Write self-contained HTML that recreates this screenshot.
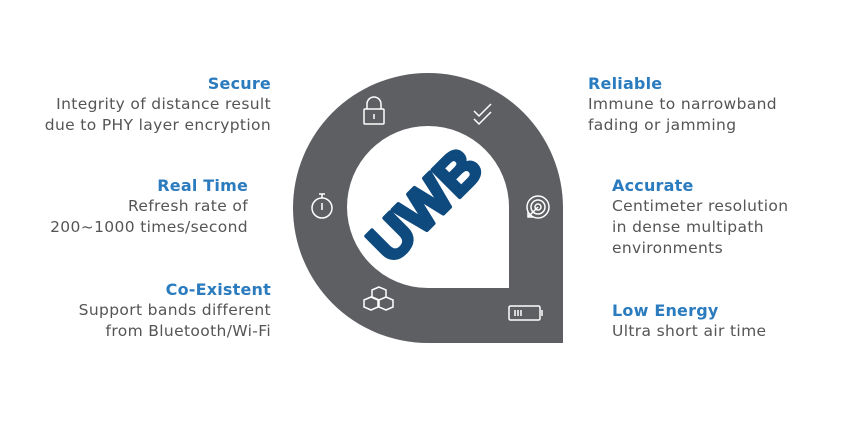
<!DOCTYPE html>
<html><head><style>
body{margin:0;width:850px;height:425px;background:#fff;position:relative;overflow:hidden;font-family:"DejaVu Sans","Liberation Sans",sans-serif}
.t{position:absolute;font-size:15.5px;line-height:21px;color:#555;letter-spacing:0.35px;white-space:nowrap}
.t b{color:#2b7bbf;display:block;font-size:16px;letter-spacing:0.2px}
.r{text-align:right}
</style></head><body>
<svg width="850" height="425" style="position:absolute;left:0;top:0">
<path d="M563,208 A135,135 0 1 0 428,343 L563,343 Z" fill="#5e5f63"/>
<path d="M509,207 A81,81 0 1 0 428,288 L509,288 Z" fill="#fff"/>
<text x="0" y="0" transform="translate(428,208) rotate(-45)" text-anchor="middle" dominant-baseline="middle" font-family="Liberation Sans" font-weight="900" font-size="56" fill="#0e4a7e" stroke="#0e4a7e" stroke-width="4" stroke-linejoin="round">UWB</text>
<g fill="none" stroke="#fff" stroke-width="1.5">
<rect x="364" y="109" width="20" height="15" rx="1"/><path d="M367,109 v-5 a7,7 0 0 1 14,0 v5"/><path d="M374,114 v5"/>
<path d="M474,111 l5,5 l12,-12 M474,119 l5,5 l12,-12"/>
<circle cx="322" cy="208" r="10"/><path d="M322,198 v-4 M319,194 h6 M322,203 v7"/>
<circle cx="538" cy="207" r="11"/><circle cx="538" cy="207" r="7"/><circle cx="538" cy="207" r="3"/><path d="M538,207 l-10,10 M528,212 v5 h5"/>
<path d="M372,290 l7,-3 l7,3 v7 l-7,3 l-7,-3z M364,300 l7,-3 l7,3 v7 l-7,3 l-7,-3z M379,300 l7,-3 l7,3 v7 l-7,3 l-7,-3z"/>
<rect x="509" y="306" width="31" height="14" rx="1.5"/><path d="M542,310 v6"/><path d="M515,310 v6 M518,310 v6 M521,310 v6"/>
</g>
</svg>
<div class="t r" style="right:579px;top:73px"><b>Secure</b>Integrity of distance result<br>due to PHY layer encryption</div>
<div class="t r" style="right:602px;top:175px"><b>Real Time</b>Refresh rate of<br>200~1000 times/second</div>
<div class="t r" style="right:579px;top:279px"><b>Co-Existent</b>Support bands different<br>from Bluetooth/Wi-Fi</div>
<div class="t" style="left:588px;top:73px"><b>Reliable</b>Immune to narrowband<br>fading or jamming</div>
<div class="t" style="left:612px;top:175px"><b>Accurate</b>Centimeter resolution<br>in dense multipath<br>environments</div>
<div class="t" style="left:612px;top:300px"><b>Low Energy</b>Ultra short air time</div>
</body></html>
